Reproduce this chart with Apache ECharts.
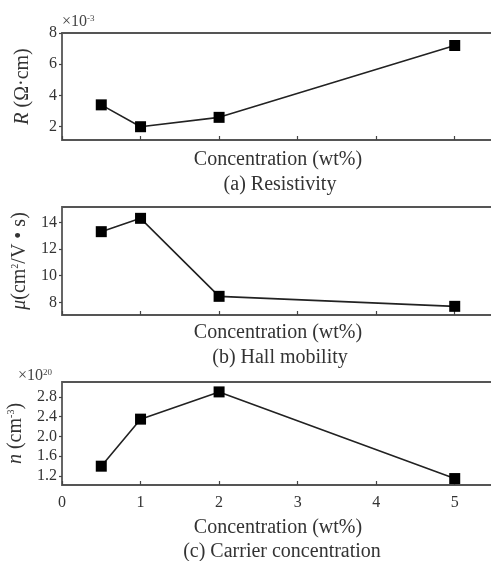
<!DOCTYPE html>
<html>
<head>
<meta charset="utf-8">
<script src="https://cdn.jsdelivr.net/npm/echarts@6/dist/echarts.min.js"></script>
<style>
  html, body { margin: 0; padding: 0; background: #fff; }
  #main { width: 491px; height: 561px; }
</style>
</head>
<body>
<div id="main"></div>
<script>
// concentration (wt%)
var concentration = [0.5, 1, 2, 5];
// (a) resistivity, x10^-3 ohm cm
var resistivity = [3.4, 2.0, 2.6, 7.2];
// (b) hall mobility, cm2/V s
var mobility = [13.3, 14.3, 8.45, 7.7];
// (c) carrier concentration, x10^20 cm-3
var carrier = [1.4, 2.35, 2.9, 1.15];

var xTicks = [0, 1, 2, 3, 4, 5];
var yTicksA = [2, 4, 6, 8];
var yTicksB = [8, 10, 12, 14];
var yTicksC = [1.2, 1.6, 2.0, 2.4, 2.8];

var FONT = '"Liberation Serif", "Times New Roman", serif';
var AXIS_COLOR = '#444';
var TEXT_COLOR = '#333';

function pairs(xs, ys) {
    let out = [];
    for (let i = 0; i < xs.length; i++) {
        out.push([xs[i], ys[i]]);
    }
    return out;
}

function makeX(idx, showLabels, nameGap) {
    return {
        type: 'value',
        gridIndex: idx,
        min: 0,
        max: 5.5,
        name: 'Concentration (wt%)',
        nameLocation: 'middle',
        nameGap: nameGap,
        nameTextStyle: { fontFamily: FONT, fontSize: 20, color: TEXT_COLOR },
        axisLine: { show: false },
        axisTick: {
            show: true, inside: true, length: 4,
            customValues: xTicks,
            lineStyle: { color: AXIS_COLOR, width: 1.2 }
        },
        axisLabel: {
            show: showLabels,
            customValues: xTicks,
            fontFamily: FONT, fontSize: 16, color: TEXT_COLOR, margin: 10
        },
        splitLine: { show: false }
    };
}

function makeY(idx, min, max, ticks, name, nameGap, rich) {
    return {
        type: 'value',
        gridIndex: idx,
        min: min,
        max: max,
        name: name,
        nameLocation: 'middle',
        nameGap: nameGap,
        nameRotate: 90,
        nameTextStyle: { fontFamily: FONT, fontSize: 20, color: TEXT_COLOR, rich: rich },
        axisLine: { show: false },
        axisTick: {
            show: true, length: 3,
            customValues: ticks,
            lineStyle: { color: AXIS_COLOR, width: 1.2 }
        },
        axisLabel: {
            customValues: ticks,
            fontFamily: FONT, fontSize: 16, color: TEXT_COLOR, margin: 5,
            formatter: function (v) {
                return ticks[0] < 2 ? v.toFixed(1) : String(v);
            }
        },
        splitLine: { show: false }
    };
}

function makeSeries(idx, data) {
    return {
        type: 'line',
        xAxisIndex: idx,
        yAxisIndex: idx,
        data: data,
        symbol: 'rect',
        symbolSize: 11,
        itemStyle: { color: '#000' },
        lineStyle: { color: '#222', width: 1.6 },
        animation: false
    };
}

var richName = {
    it: { fontFamily: FONT, fontSize: 20, fontStyle: 'italic', color: TEXT_COLOR },
    t: { fontFamily: FONT, fontSize: 20, color: TEXT_COLOR },
    sup: { fontFamily: FONT, fontSize: 10, color: TEXT_COLOR, verticalAlign: 'top', padding: [0, 0, 9, 0] }
};

var supStyle = { fontSize: 9, fontFamily: FONT, fill: '#444', verticalAlign: 'top', padding: [0, 0, 7, 0] };

var gridStyle = {
    show: true, borderColor: '#555', borderWidth: 1.8, backgroundColor: 'transparent',
    containLabel: false, outerBoundsMode: 'none'
};

var chart = echarts.init(document.getElementById('main'), null, { renderer: 'canvas' });

var option = {
    animation: false,
    backgroundColor: '#fff',
    grid: [
        Object.assign({ left: 62, right: -3, top: 33, height: 107 }, gridStyle),
        Object.assign({ left: 62, right: -3, top: 207, height: 108 }, gridStyle),
        Object.assign({ left: 62, right: -3, top: 382, height: 103 }, gridStyle)
    ],
    xAxis: [
        makeX(0, false, 10),
        makeX(1, false, 8),
        makeX(2, true, 33)
    ],
    yAxis: [
        makeY(0, 1.15, 8, yTicksA, '{it|R} {t|(Ω·cm)}', 29, richName),
        makeY(1, 7.05, 15.15, yTicksB, '{it|μ}{t|(cm}{sup|2}{t|/V • s)}', 32, richName),
        makeY(2, 1.02, 3.1, yTicksC, '{it|n} {t|(cm}{sup|-3}{t|)}', 32, richName)
    ],
    series: [
        makeSeries(0, pairs(concentration, resistivity)),
        makeSeries(1, pairs(concentration, mobility)),
        makeSeries(2, pairs(concentration, carrier))
    ],
    graphic: [
        {
            type: 'text', left: 62, top: 14,
            style: { text: '×10{s|-3}', font: '16px ' + FONT, fill: '#444', rich: { s: supStyle } }
        },
        {
            type: 'text', left: 18, top: 368,
            style: { text: '×10{s|20}', font: '16px ' + FONT, fill: '#444', rich: { s: supStyle } }
        },
        { type: 'text', x: 280, y: 185, style: { text: '(a) Resistivity', font: '20px ' + FONT, fill: TEXT_COLOR, align: 'center', verticalAlign: 'middle' } },
        { type: 'text', x: 280, y: 358, style: { text: '(b) Hall mobility', font: '20px ' + FONT, fill: TEXT_COLOR, align: 'center', verticalAlign: 'middle' } },
        { type: 'text', x: 282, y: 552, style: { text: '(c) Carrier concentration', font: '20px ' + FONT, fill: TEXT_COLOR, align: 'center', verticalAlign: 'middle' } }
    ]
};

chart.setOption(option);
</script>
</body>
</html>
